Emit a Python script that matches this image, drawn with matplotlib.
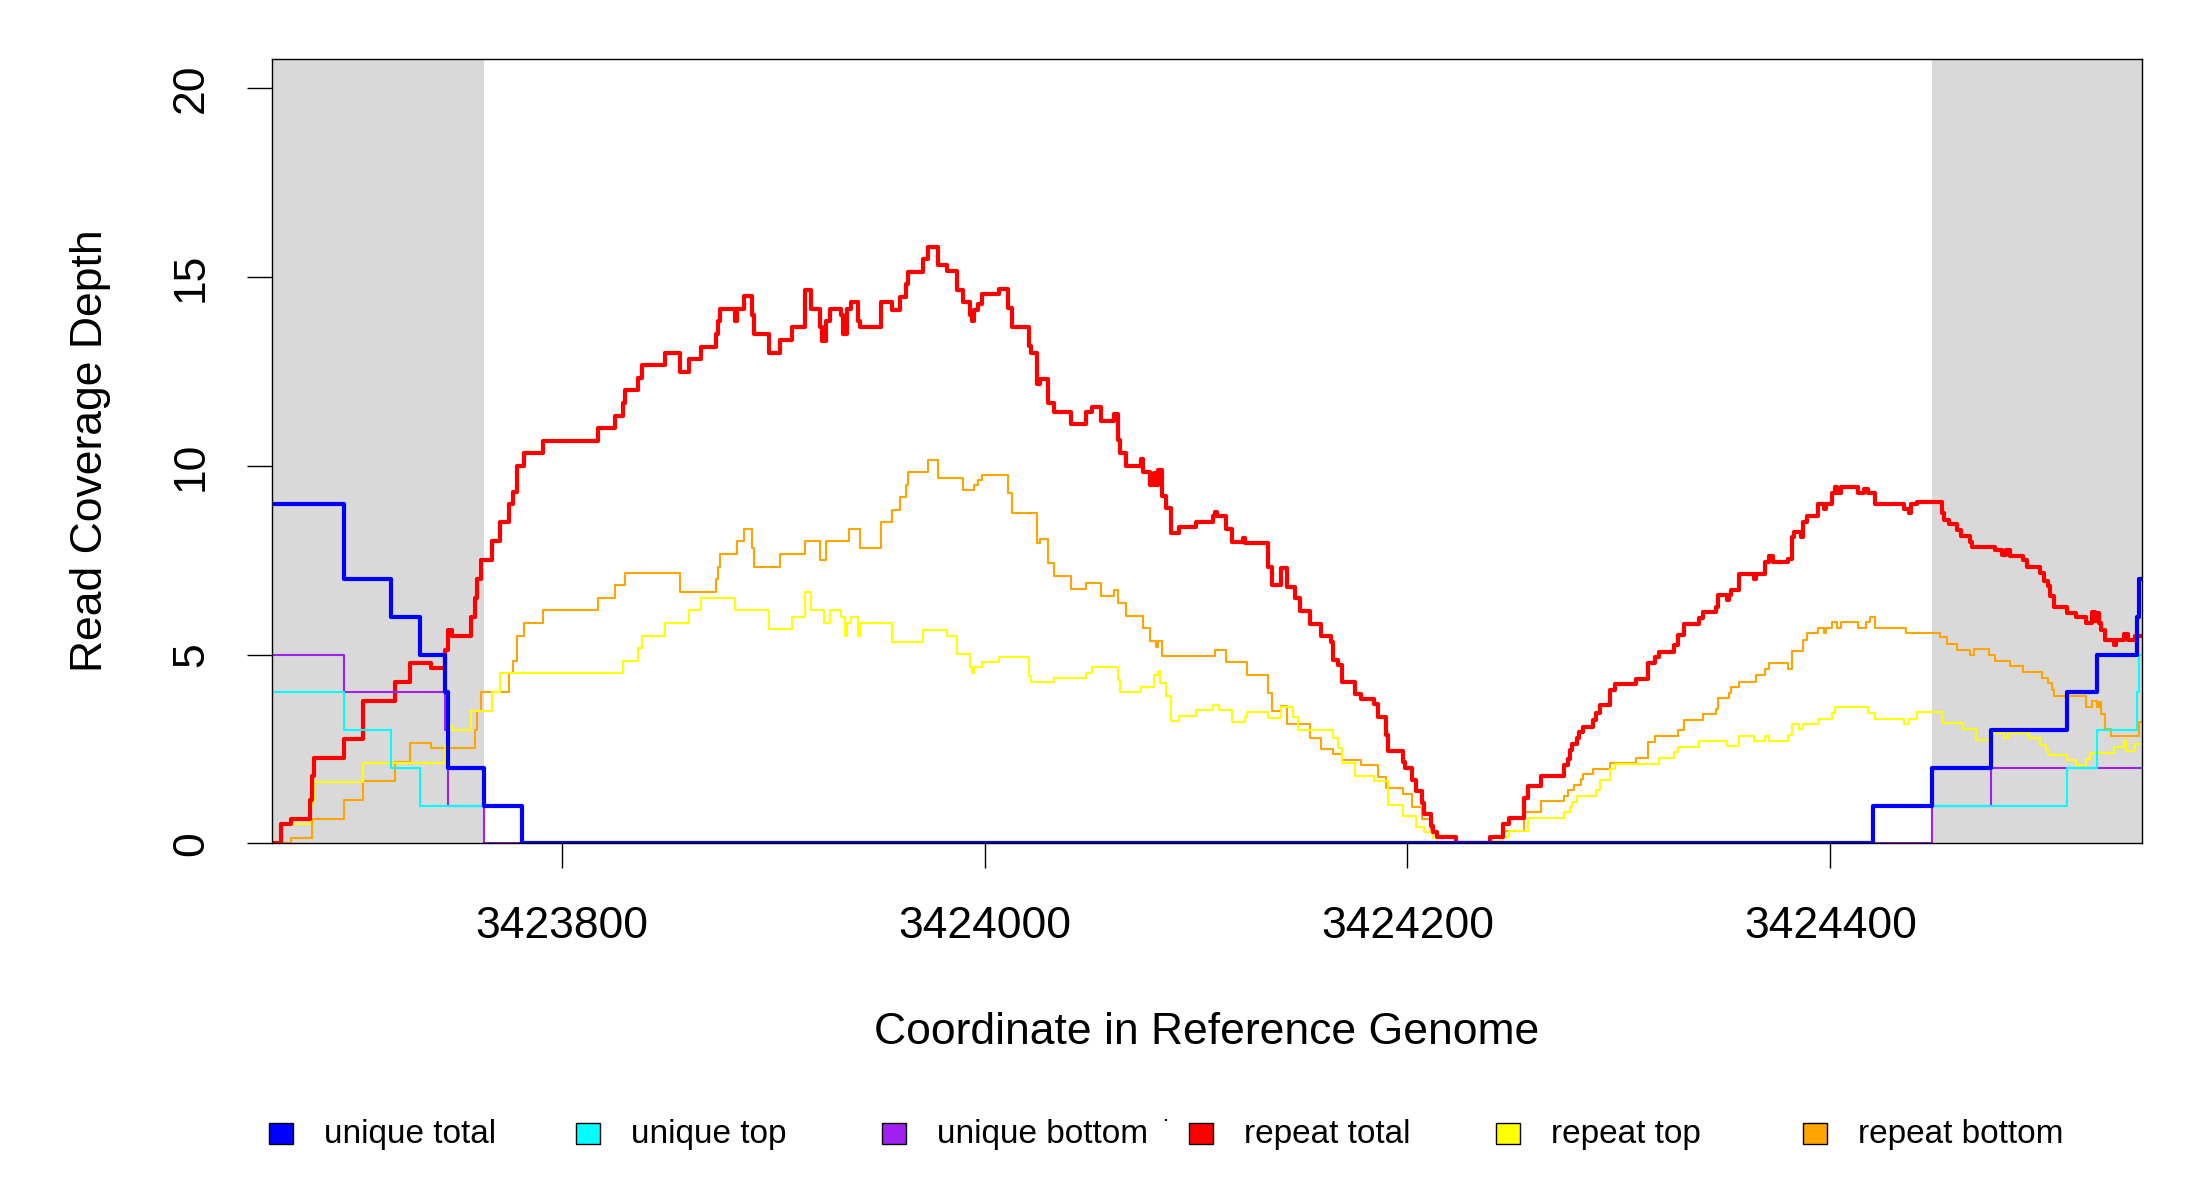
import matplotlib
matplotlib.use('Agg')
from matplotlib import pyplot as plt
from matplotlib.patches import Rectangle

plt.rcParams['font.family'] = ['Liberation Sans', 'DejaVu Sans']

# step data: value holds from x until next x
unique_total_x = [3423663, 3423697, 3423719, 3423733, 3423745, 3423746, 3423763, 3423781,
                  3424420, 3424448, 3424476, 3424512, 3424526, 3424545, 3424546, 3424547]
unique_total_y = [9, 7, 6, 5, 4, 2, 1, 0, 1, 2, 3, 4, 5, 6, 7, 7]

unique_top_x = [3423663, 3423697, 3423719, 3423733, 3423781, 3424420, 3424512, 3424526,
                3424545, 3424546, 3424547]
unique_top_y = [4, 3, 2, 1, 0, 1, 2, 3, 4, 5, 5]

unique_bottom_x = [3423663, 3423697, 3423745, 3423746, 3423763, 3424448, 3424476, 3424547]
unique_bottom_y = [5, 4, 3, 1, 0, 1, 2, 2]

repeat_total_x = [
    3423663, 3423667, 3423672, 3423681, 3423682, 3423683, 3423697, 3423706, 3423721, 3423728,
    3423738, 3423745, 3423746, 3423748, 3423757, 3423759, 3423760, 3423762, 3423767, 3423771,
    3423775, 3423777, 3423779, 3423782, 3423791, 3423817, 3423825, 3423829, 3423830, 3423836,
    3423838, 3423849, 3423856, 3423860, 3423866, 3423873, 3423874, 3423875, 3423882, 3423883,
    3423886, 3423890, 3423891, 3423898, 3423903, 3423909, 3423915, 3423918, 3423922, 3423923,
    3423925, 3423927, 3423932, 3423933, 3423935, 3423937, 3423940, 3423941, 3423951, 3423956,
    3423960, 3423963, 3423964, 3423971, 3423973, 3423978, 3423982, 3423987, 3423990, 3423993,
    3423994, 3423995, 3423997, 3423999, 3424007, 3424011, 3424013, 3424021, 3424022, 3424025,
    3424026, 3424030, 3424033, 3424041, 3424048, 3424051, 3424055, 3424061, 3424063, 3424064,
    3424067, 3424074, 3424075, 3424078, 3424080, 3424081, 3424082, 3424084, 3424086, 3424088,
    3424092, 3424100, 3424108, 3424109, 3424110, 3424114, 3424117, 3424122, 3424123, 3424134,
    3424136, 3424140, 3424143, 3424147, 3424149, 3424154, 3424159, 3424164, 3424165, 3424167,
    3424169, 3424175, 3424178, 3424184, 3424186, 3424190, 3424191, 3424198, 3424199, 3424202,
    3424204, 3424207, 3424208, 3424211, 3424212, 3424214, 3424223, 3424239, 3424245, 3424248,
    3424255, 3424257, 3424263, 3424274, 3424276, 3424277, 3424278, 3424280, 3424281, 3424283,
    3424288, 3424289, 3424291, 3424296, 3424298, 3424308, 3424314, 3424317, 3424319, 3424326,
    3424328, 3424331, 3424338, 3424340, 3424346, 3424347, 3424351, 3424352, 3424353, 3424357,
    3424364, 3424365, 3424369, 3424371, 3424373, 3424380, 3424382, 3424383, 3424386, 3424387,
    3424389, 3424394, 3424397, 3424398, 3424401, 3424402, 3424403, 3424405, 3424413, 3424416,
    3424418, 3424421, 3424435, 3424437, 3424438, 3424441, 3424453, 3424454, 3424456, 3424460,
    3424462, 3424466, 3424467, 3424478, 3424481, 3424483, 3424485, 3424491, 3424493, 3424499,
    3424501, 3424503, 3424504, 3424506, 3424512, 3424516, 3424521, 3424524, 3424525, 3424526,
    3424527, 3424528, 3424530, 3424534, 3424535, 3424539, 3424541, 3424544, 3424547]
repeat_total_y = [
    0, 0.5, 0.65, 1.15, 1.77, 2.27, 2.77, 3.77, 4.27, 4.77,
    4.64, 5.12, 5.64, 5.5, 6.0, 6.5, 7.0, 7.5, 8.0, 8.5,
    9.0, 9.32, 10.0, 10.34, 10.67, 11.0, 11.33, 11.66, 12.0, 12.32,
    12.67, 13.0, 12.5, 12.83, 13.16, 13.5, 13.84, 14.16, 13.84, 14.16,
    14.5, 14.0, 13.5, 13.0, 13.34, 13.67, 14.66, 14.16, 13.67, 13.3,
    13.84, 14.16, 14.0, 13.5, 14.16, 14.33, 13.84, 13.67, 14.33, 14.14,
    14.47, 14.82, 15.15, 15.48, 15.81, 15.33, 15.17, 14.66, 14.33, 14.0,
    13.84, 14.14, 14.3, 14.55, 14.68, 14.17, 13.69, 13.18, 13.0, 12.17,
    12.31, 11.66, 11.44, 11.1, 11.43, 11.56, 11.2, 11.37, 10.69, 10.35,
    10.0, 10.17, 9.83, 9.5, 9.8, 9.5, 9.9, 9.21, 8.88, 8.22,
    8.37, 8.51, 8.66, 8.79, 8.66, 8.32, 7.98, 8.1, 7.95, 7.31,
    6.83, 7.29, 6.79, 6.49, 6.16, 5.81, 5.48, 5.34, 4.86, 4.73,
    4.28, 3.96, 3.82, 3.70, 3.34, 2.87, 2.45, 2.14, 1.99, 1.68,
    1.39, 1.06, 0.78, 0.46, 0.31, 0.17, 0, 0.17, 0.51, 0.68,
    1.19, 1.52, 1.79, 2.08, 2.22, 2.47, 2.63, 2.78, 2.94, 3.07,
    3.27, 3.44, 3.67, 4.06, 4.22, 4.35, 4.77, 4.93, 5.08, 5.24,
    5.52, 5.80, 5.96, 6.14, 6.27, 6.58, 6.45, 6.58, 6.71, 7.14,
    7.0, 7.14, 7.46, 7.6, 7.46, 7.52, 8.11, 8.26, 8.11, 8.52,
    8.68, 8.98, 8.85, 8.98, 9.28, 9.43, 9.28, 9.43, 9.28, 9.4,
    9.28, 8.98, 8.85, 8.75, 8.98, 9.03, 8.75, 8.57, 8.45, 8.30,
    8.14, 7.99, 7.86, 7.77, 7.64, 7.77, 7.6, 7.51, 7.31, 7.16,
    6.96, 6.82, 6.54, 6.27, 6.11, 5.99, 5.83, 6.14, 5.9, 6.1,
    5.83, 5.65, 5.39, 5.25, 5.39, 5.55, 5.39, 5.5, 5.5]

repeat_top_x = [
    3423663, 3423667, 3423681, 3423682, 3423683, 3423706, 3423745, 3423746, 3423748, 3423757,
    3423767, 3423771, 3423829, 3423836, 3423838, 3423849, 3423860, 3423866, 3423882, 3423898,
    3423909, 3423915, 3423918, 3423924, 3423927, 3423932, 3423934, 3423935, 3423937, 3423940,
    3423941, 3423956, 3423971, 3423982, 3423987, 3423993, 3423994, 3423995, 3423999, 3424007,
    3424021, 3424022, 3424033, 3424048, 3424051, 3424063, 3424064, 3424074, 3424080, 3424082,
    3424083, 3424086, 3424088, 3424092, 3424100, 3424108, 3424111, 3424117, 3424123, 3424124,
    3424134, 3424140, 3424146, 3424148, 3424165, 3424167, 3424169, 3424175, 3424184, 3424191,
    3424198, 3424204, 3424208, 3424212, 3424214, 3424223, 3424240, 3424245, 3424248, 3424257,
    3424274, 3424277, 3424278, 3424280, 3424289, 3424291, 3424296, 3424298, 3424319, 3424326,
    3424328, 3424338, 3424351, 3424357, 3424364, 3424369, 3424371, 3424380, 3424382, 3424385,
    3424387, 3424394, 3424401, 3424402, 3424418, 3424421, 3424435, 3424437, 3424441, 3424453,
    3424463, 3424469, 3424476, 3424482, 3424484, 3424494, 3424499, 3424502, 3424503, 3424512,
    3424516, 3424521, 3424523, 3424526, 3424534, 3424539, 3424540, 3424544, 3424547]
repeat_top_y = [
    0, 0.5, 1.0, 1.12, 1.63, 2.12, 2.6, 3.1, 3.0, 3.5,
    4.0, 4.5, 4.83, 5.17, 5.5, 5.83, 6.17, 6.5, 6.17, 5.67,
    6.0, 6.67, 6.17, 5.83, 6.17, 6.0, 5.5, 5.83, 6.0, 5.5,
    5.83, 5.32, 5.66, 5.5, 5.01, 4.68, 4.5, 4.67, 4.79, 4.93,
    4.42, 4.26, 4.39, 4.52, 4.68, 4.32, 4.02, 4.15, 4.46, 4.57,
    4.24, 3.91, 3.25, 3.38, 3.53, 3.66, 3.53, 3.2, 3.35, 3.48,
    3.33, 3.62, 3.35, 3.0, 2.79, 2.52, 2.12, 1.78, 1.64, 1.02,
    0.72, 0.44, 0.29, 0.13, 0.03, 0, 0.05, 0.17, 0.32, 0.68,
    0.82, 0.96, 1.1, 1.25, 1.40, 1.68, 1.96, 2.1, 2.25, 2.41,
    2.56, 2.72, 2.58, 2.84, 2.71, 2.84, 2.71, 2.86, 3.15, 3.02,
    3.15, 3.3, 3.45, 3.60, 3.45, 3.3, 3.15, 3.3, 3.48, 3.18,
    3.03, 2.74, 2.92, 2.79, 2.92, 2.79, 2.6, 2.47, 2.34, 2.2,
    2.06, 2.23, 2.38, 2.4, 2.54, 2.71, 2.45, 2.62, 2.62]

repeat_bottom_x = [
    3423663, 3423672, 3423682, 3423697, 3423706, 3423721, 3423728, 3423738, 3423759, 3423760,
    3423762, 3423775, 3423777, 3423779, 3423782, 3423791, 3423817, 3423825, 3423830, 3423856,
    3423873, 3423874, 3423875, 3423883, 3423886, 3423890, 3423891, 3423903, 3423915, 3423922,
    3423925, 3423936, 3423941, 3423951, 3423956, 3423960, 3423963, 3423964, 3423973, 3423978,
    3423990, 3423995, 3423997, 3423999, 3424011, 3424013, 3424025, 3424026, 3424030, 3424033,
    3424041, 3424048, 3424055, 3424061, 3424063, 3424067, 3424075, 3424078, 3424081, 3424082,
    3424084, 3424109, 3424114, 3424124, 3424134, 3424136, 3424140, 3424143, 3424154, 3424159,
    3424165, 3424169, 3424178, 3424186, 3424190, 3424198, 3424202, 3424207, 3424211, 3424212,
    3424223, 3424239, 3424245, 3424255, 3424263, 3424274, 3424276, 3424279, 3424282, 3424283,
    3424288, 3424296, 3424308, 3424314, 3424317, 3424328, 3424331, 3424340, 3424346, 3424347,
    3424352, 3424353, 3424357, 3424365, 3424369, 3424371, 3424380, 3424382, 3424387, 3424389,
    3424394, 3424397, 3424398, 3424401, 3424403, 3424405, 3424413, 3424417, 3424419, 3424421,
    3424436, 3424452, 3424455, 3424460, 3424466, 3424468, 3424475, 3424478, 3424485, 3424491,
    3424500, 3424503, 3424505, 3424506, 3424521, 3424524, 3424526, 3424527, 3424528, 3424530,
    3424533, 3424546, 3424547]
repeat_bottom_y = [
    0, 0.15, 0.65, 1.15, 1.65, 2.15, 2.65, 2.53, 3.0, 3.5,
    4.0, 4.5, 4.83, 5.5, 5.83, 6.17, 6.5, 6.83, 7.17, 6.67,
    6.99, 7.33, 7.67, 8.0, 8.33, 7.83, 7.33, 7.67, 8.0, 7.5,
    8.0, 8.33, 7.83, 8.5, 8.83, 9.17, 9.5, 9.83, 10.16, 9.67,
    9.35, 9.48, 9.63, 9.76, 9.28, 8.76, 7.95, 8.06, 7.42, 7.07,
    6.74, 6.9, 6.56, 6.7, 6.36, 6.02, 5.7, 5.37, 5.2, 5.37,
    4.97, 5.12, 4.79, 4.46, 3.98, 3.51, 3.64, 3.15, 2.8, 2.49,
    2.36, 2.21, 2.06, 1.75, 1.46, 1.30, 0.97, 0.64, 0.31, 0.13,
    0, 0.17, 0.32, 0.84, 1.12, 1.25, 1.41, 1.54, 1.70, 1.83,
    1.98, 2.12, 2.27, 2.69, 2.83, 2.99, 3.27, 3.42, 3.56, 3.84,
    3.99, 4.13, 4.28, 4.46, 4.61, 4.77, 4.61, 5.10, 5.39, 5.56,
    5.70, 5.56, 5.70, 5.85, 5.70, 5.85, 5.70, 5.85, 5.99, 5.70,
    5.56, 5.46, 5.28, 5.12, 4.99, 5.14, 4.99, 4.83, 4.70, 4.53,
    4.39, 4.24, 4.06, 3.91, 3.62, 3.77, 3.6, 3.75, 3.42, 3.02,
    2.84, 3.2, 3.2]

shaded_regions = [(3423663, 3423763), (3424448, 3424548)]
x_ticks = [3423800, 3424000, 3424200, 3424400]
y_ticks = [0, 5, 10, 15, 20]

series = [
    ('repeat bottom', repeat_bottom_x, repeat_bottom_y, 'orange', 1.5),
    ('repeat top', repeat_top_x, repeat_top_y, 'yellow', 1.5),
    ('repeat total', repeat_total_x, repeat_total_y, 'red', 3.0),
    ('unique bottom', unique_bottom_x, unique_bottom_y, '#A020F0', 1.5),
    ('unique top', unique_top_x, unique_top_y, 'cyan', 1.5),
    ('unique total', unique_total_x, unique_total_y, 'blue', 3.0),
]
legend_order = ['unique total', 'unique top', 'unique bottom',
                'repeat total', 'repeat top', 'repeat bottom']

fig = plt.figure(figsize=(22, 12), dpi=100)
ax = fig.add_axes([0.1235, 0.2973, 0.9736 - 0.1235, 0.9508 - 0.2973])

for x0, x1 in shaded_regions:
    ax.axvspan(x0, x1, color='#D9D9D9', lw=0, zorder=0)

colors = {}
for name, xs, ys, col, lw in series:
    ax.step(xs, ys, where='post', color=col, lw=lw, zorder=2)
    colors[name] = col

ax.set_xlim(3423662.8, 3424547.4)
ax.set_ylim(0, 20.78)
ax.set_xticks(x_ticks)
ax.set_xticklabels([str(t) for t in x_ticks])
ax.set_yticks(y_ticks)
ax.set_yticklabels([str(t) for t in y_ticks])
ax.tick_params(axis='both', direction='out', length=18, width=1, labelsize=32)
ax.tick_params(axis='x', pad=27)
ax.tick_params(axis='y', pad=25)
plt.setp(ax.get_yticklabels(), rotation=90, va='center')
for s in ax.spines.values():
    s.set_linewidth(1)

fig.text(1207 / 2200, 1 - 1033 / 1200, 'Coordinate in Reference Genome', ha='center', va='center', fontsize=32)
fig.text(91 / 2200, 1 - 451 / 1200, 'Read Coverage Depth', ha='center', va='center', rotation=90, fontsize=32)

# legend boxes along the bottom
for i, name in enumerate(legend_order):
    cx = 281 + i * 306.7
    cy = 1133
    fig.patches.append(Rectangle(((cx - 12) / 2200, 1 - (cy + 10.5) / 1200), 24 / 2200, 21 / 1200,
                                 transform=fig.transFigure, facecolor=colors[name],
                                 edgecolor='black', lw=1))
    fig.text((cx + 43) / 2200, 1 - (cy + 1) / 1200, name, ha='left', va='center', fontsize=24)

# small stray mark next to the legend
fig.patches.append(Rectangle((1165 / 2200, 1 - 1121 / 1200), 2 / 2200, 2 / 1200,
                             transform=fig.transFigure, facecolor='black', lw=0))

fig.savefig('out.png', dpi=100)
